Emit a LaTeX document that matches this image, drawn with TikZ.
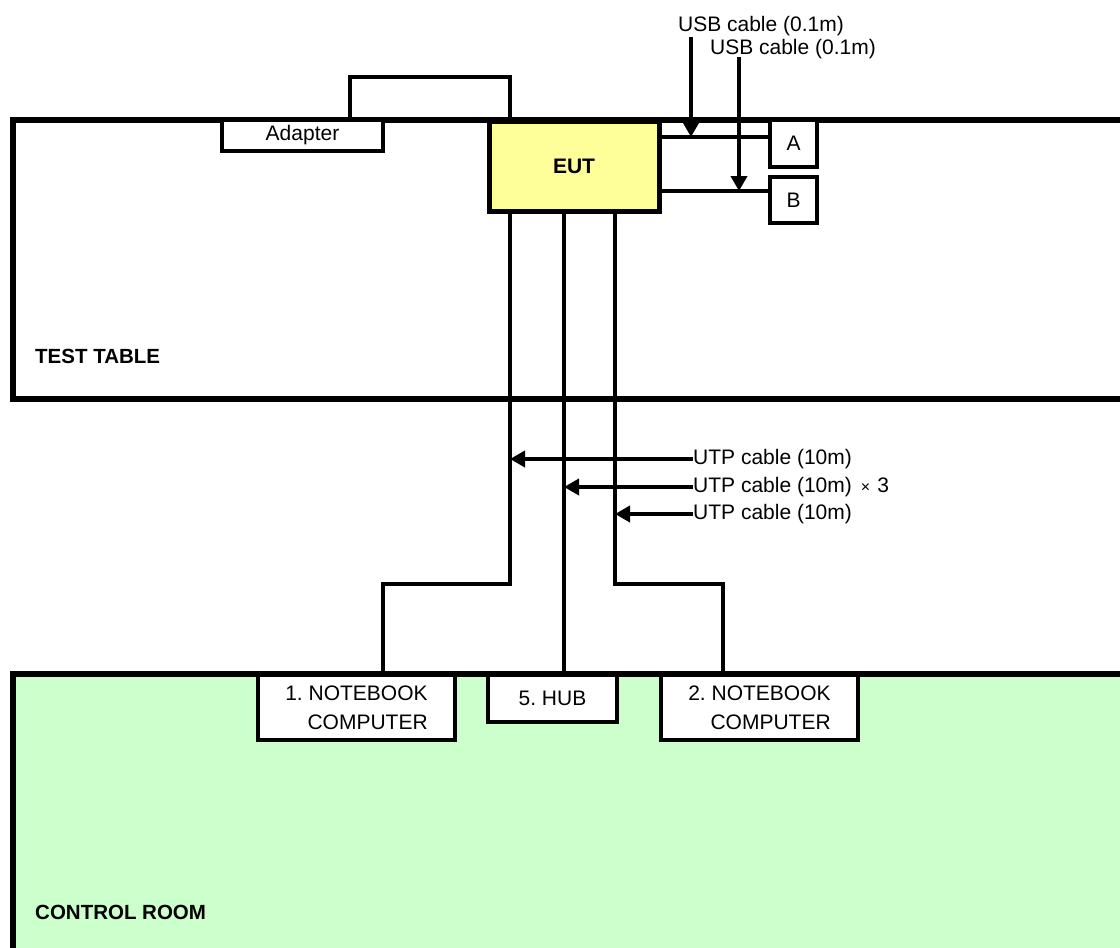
\documentclass[tikz,border=0pt]{standalone}
\usepackage{fontspec}
\setmainfont{Liberation Sans}
\usetikzlibrary{arrows.meta}
\definecolor{eutyellow}{HTML}{FFFF99}
\definecolor{roomgreen}{HTML}{CCFFCC}
\frenchspacing
\begin{document}
\begin{tikzpicture}[x=1pt,y=-1pt,
  lbl/.style={font=\fontsize{21}{24}\selectfont, inner sep=0pt},
  title/.style={font=\fontsize{20.5}{24}\selectfont\bfseries, inner sep=0pt, anchor=west},
  box/.style={draw, line width=4pt, fill=white, inner sep=0pt, align=right,
    font=\fontsize{21}{29}\selectfont},
  cable/.style={line width=3.4pt},
  arr/.style={line width=4.2pt, -{Triangle[length=15pt,width=16pt]}},
  wall/.style={line width=6pt}]
\useasboundingbox (0,0) rectangle (1120,948);
% control room
\fill[roomgreen] (13,674) rectangle (1135,960);
\draw[wall] (13,965) -- (13,674) -- (1135,674);
% test table
\draw[wall] (1135,120) -- (13,120) -- (13,399) -- (1135,399);
\node[title] (tt) at (35,356) {TEST TABLE};
\node[title] (cr) at (35,912) {CONTROL ROOM};
% coordinates
\coordinate (ad1) at (350,120);
\coordinate (adtop) at (0,77);
\coordinate (ad2) at (510,120);
\coordinate (ya) at (0,137);
\coordinate (yb) at (0,191);
\coordinate (x1) at (510,0);
\coordinate (x2) at (564,0);
\coordinate (x3) at (615,0);
\coordinate (k1) at (383,584);
\coordinate (k3) at (723,584);
\coordinate (u1s) at (691,37);
\coordinate (u2s) at (739,57);
% adapter cable
\draw[cable] (ad1) -- (ad1 |- adtop) -- (ad2 |- adtop) -- (ad2);
% boxes
\node[box, minimum width=161, minimum height=31] (adapter) at (302.5,135.5) {Adapter};
\node[box, fill=eutyellow, line width=5pt, minimum width=170, minimum height=90,
  font=\fontsize{21}{24}\selectfont\bfseries] (eut) at (574,166) {EUT};
\node[box, line width=4.5pt, minimum width=47, minimum height=47] (A) at (793.5,143.5) {A};
\node[box, line width=4.5pt, minimum width=47, minimum height=46] (B) at (793.5,200) {B};
% USB cables
\draw[cable] (eut.east |- ya) -- (A.west |- ya);
\draw[cable] (eut.east |- yb) -- (B.west |- yb);
\node[lbl] (usb1) at (761,26) {USB cable (0.1m)};
\node[lbl] (usb2) at (793,49) {USB cable (0.1m)};
\draw[arr] (u1s) -- (u1s |- ya);
\draw[arr] (u2s) -- (u2s |- yb);
% control room boxes
\node[box, minimum width=197, minimum height=65] (nb1) at (356.5,707.5) {1. NOTEBOOK\\COMPUTER};
\node[box, minimum width=129, minimum height=47] (hub) at (552.5,698.5) {5. HUB};
\node[box, minimum width=197, minimum height=65] (nb2) at (759.5,707.5) {2. NOTEBOOK\\COMPUTER};
% UTP cables
\draw[cable] (eut.south -| x1) |- (k1) -- (k1 |- nb1.north);
\draw[cable] (eut.south -| x2) -- (x2 |- hub.north);
\draw[cable] (eut.south -| x3) |- (k3) -- (k3 |- nb2.north);
\node[lbl, anchor=west] (utp1) at (693,459) {UTP cable (10m)};
\node[lbl, anchor=west] (utp2) at (693,487) {UTP cable (10m)\hspace{9pt}{\fontsize{16}{16}\selectfont ×}\hspace{7pt}3};
\node[lbl, anchor=west] (utp3) at (693,514) {UTP cable (10m)};
\draw[arr] (utp1.west) -- (utp1.west -| x1);
\draw[arr] (utp2.west) -- (utp2.west -| x2);
\draw[arr] (utp3.west) -- (utp3.west -| x3);
\end{tikzpicture}
\end{document}
